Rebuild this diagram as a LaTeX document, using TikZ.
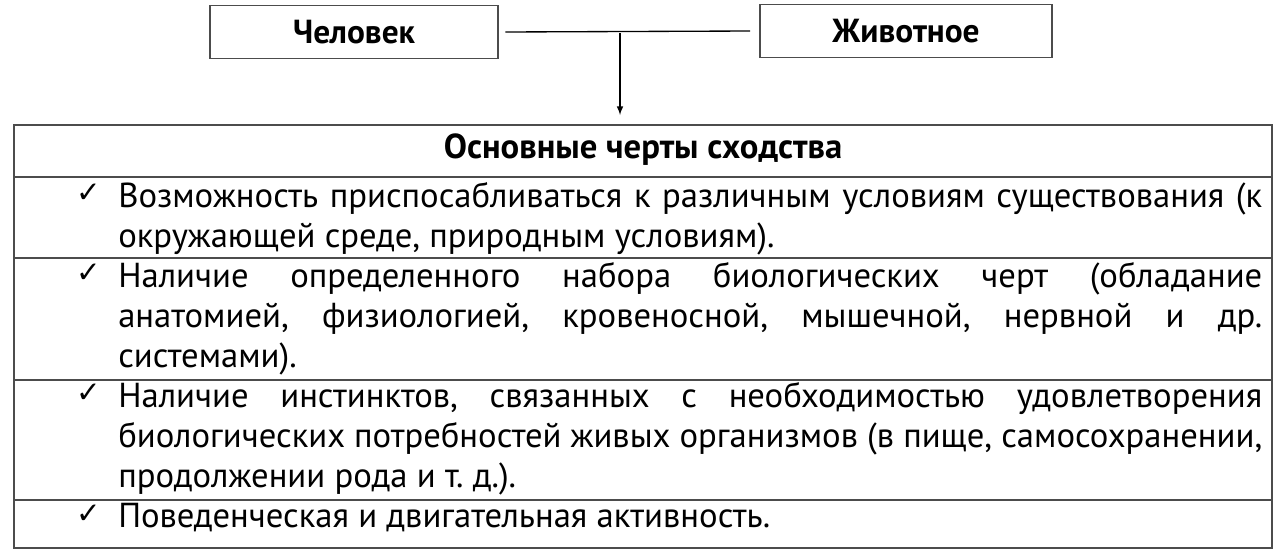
\documentclass[tikz,border=0pt]{standalone}
\usepackage{fontspec}
\setmainfont{PT Sans}
\newfontfamily\symfont{DejaVu Sans}
\usetikzlibrary{positioning}
\frenchspacing
\begin{document}
\begin{tikzpicture}[x=0.75pt,y=-0.75pt,
  topbox/.style={draw=black!70,line width=1pt,minimum width=216pt,minimum height=40pt,font=\bfseries\fontsize{25}{28}\selectfont},
  rowtext/.style={anchor=north west,text width=858pt,align=justify,inner sep=0pt,font=\fontsize{26}{30}\selectfont},
  tick/.style={anchor=north west,inner sep=0pt,font=\symfont\fontsize{22}{30}\selectfont}]
\useasboundingbox (0,0) rectangle (1280,550);
% top boxes
\node[topbox] (man) at (354,32) {Человек};
\node[topbox,minimum width=219pt] (animal) at (906,31) {Животное};
\coordinate (mid) at (620,33);
\draw[line width=1pt] ([xshift=5pt]man.east) -- ([xshift=-7pt]animal.west);
\draw[line width=1.2pt,-latex] (mid) -- (620,115);
% table
\draw[black!70,line width=1pt] (14,125) rectangle (1272,548);
\foreach \yy in {177,258,380,500} \draw[black!70,line width=1pt] (14,\yy) -- (1272,\yy);
\node[font=\bfseries\fontsize{26}{30}\selectfont] (head) at (643,150) {Основные черты сходства};
\foreach \yy in {184,264,384,505} \node[tick] at (76,\yy) {✓};
\node[rowtext] (r1) at (118,182) {Возможность приспосабливаться к различным условиям существования (к окружающей среде, природным условиям).};
\node[rowtext] (r2) at (118,262) {Наличие определенного набора биологических черт (обладание\linebreak анатомией, физиологией, кровеносной, мышечной, нервной и др.\linebreak системами).};
\node[rowtext] (r3) at (118,382) {Наличие инстинктов, связанных с необходимостью удовлетворения биологических потребностей живых организмов (в пище, самосохранении, продолжении рода и т. д.).};
\node[rowtext] (r4) at (118,503) {Поведенческая и двигательная активность.};
\end{tikzpicture}
\end{document}
